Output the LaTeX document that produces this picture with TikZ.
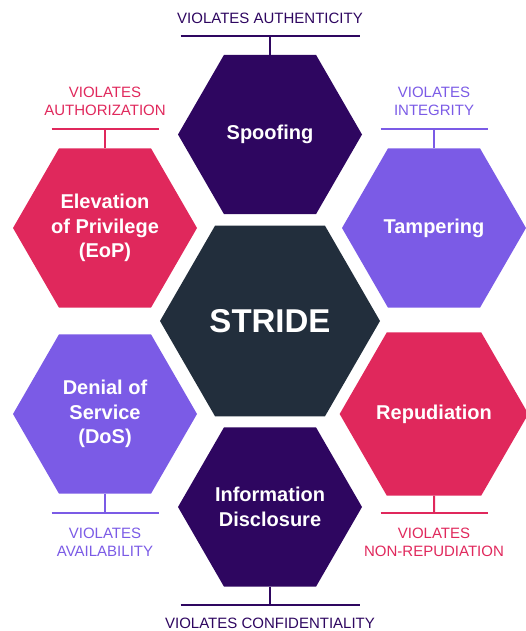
\documentclass[tikz,border=0pt]{standalone}
\usepackage{fontspec}
\setmainfont{Liberation Sans}
\usepackage{tikz}
\usetikzlibrary{shapes.geometric,positioning}
\definecolor{myplum}{RGB}{46,6,96}
\definecolor{mycrimson}{RGB}{224,40,92}
\definecolor{myviolet}{RGB}{123,91,230}
\definecolor{myslate}{RGB}{34,46,60}
\tikzstyle{hexa}=[regular polygon,regular polygon sides=6,minimum size=184pt,inner sep=0pt,outer sep=0pt,text=white,align=center,font=\fontsize{20}{24.5}\selectfont\bfseries]
\tikzstyle{tag}=[align=center,inner sep=0pt,font=\fontsize{15}{18}\selectfont]
\tikzstyle{bar}=[line width=2pt]

\begin{document}
\begin{tikzpicture}[x=1pt,y=-1pt]
\useasboundingbox (0,0) rectangle (526,631);
% the hexagons
\node [hexa,fill=myslate,minimum size=220pt,font=\fontsize{33}{36}\selectfont\bfseries] (stride) at (270,321) {STRIDE};
\node [hexa,fill=myplum] (spoof) at (270,134.5) {Spoofing};
\node [hexa,fill=mycrimson] (eop) at (105,228) {Elevation\\of Privilege\\(EoP)};
\node [hexa,fill=myviolet] (tamper) at (434,228) {Tampering};
\node [hexa,fill=myviolet] (dos) at (105,414) {Denial of\\Service\\(DoS)};
\node [hexa,fill=mycrimson] (repud) at (434,414) {Repudiation};
\node [hexa,fill=myplum] (info) at (270,507) {Information\\Disclosure};
% bars
\coordinate (spoofbar) at (270,36);
\coordinate (eopbar) at (105,129);
\coordinate (tamperbar) at (434,129);
\coordinate (dosbar) at (105,513);
\coordinate (repudbar) at (434,513);
\coordinate (infobar) at (270,605);
\draw [bar,myplum] (spoof.north) -- (spoofbar);
\draw [bar,myplum] ([xshift=-89.5pt]spoofbar) -- ([xshift=89.5pt]spoofbar);
\draw [bar,mycrimson] (eop.north) -- (eopbar);
\draw [bar,mycrimson] ([xshift=-53.5pt]eopbar) -- ([xshift=53.5pt]eopbar);
\draw [bar,myviolet] (tamper.north) -- (tamperbar);
\draw [bar,myviolet] ([xshift=-53.5pt]tamperbar) -- ([xshift=53.5pt]tamperbar);
\draw [bar,myviolet] (dos.south) -- (dosbar);
\draw [bar,myviolet] ([xshift=-53.5pt]dosbar) -- ([xshift=53.5pt]dosbar);
\draw [bar,mycrimson] (repud.south) -- (repudbar);
\draw [bar,mycrimson] ([xshift=-53.5pt]repudbar) -- ([xshift=53.5pt]repudbar);
\draw [bar,myplum] (info.south) -- (infobar);
\draw [bar,myplum] ([xshift=-89.5pt]infobar) -- ([xshift=89.5pt]infobar);
% labels
\node [tag,text=myplum] (spooftag) at (270,18) {VIOLATES AUTHENTICITY};
\node [tag,text=mycrimson] (eoptag) at (105,101) {VIOLATES\\AUTHORIZATION};
\node [tag,text=myviolet] (tampertag) at (434,101) {VIOLATES\\INTEGRITY};
\node [tag,text=myviolet] (dostag) at (105,542) {VIOLATES\\AVAILABILITY};
\node [tag,text=mycrimson] (repudtag) at (434,542) {VIOLATES\\NON-REPUDIATION};
\node [tag,text=myplum] (infotag) at (270,623) {VIOLATES CONFIDENTIALITY};
\end{tikzpicture}
\end{document}
